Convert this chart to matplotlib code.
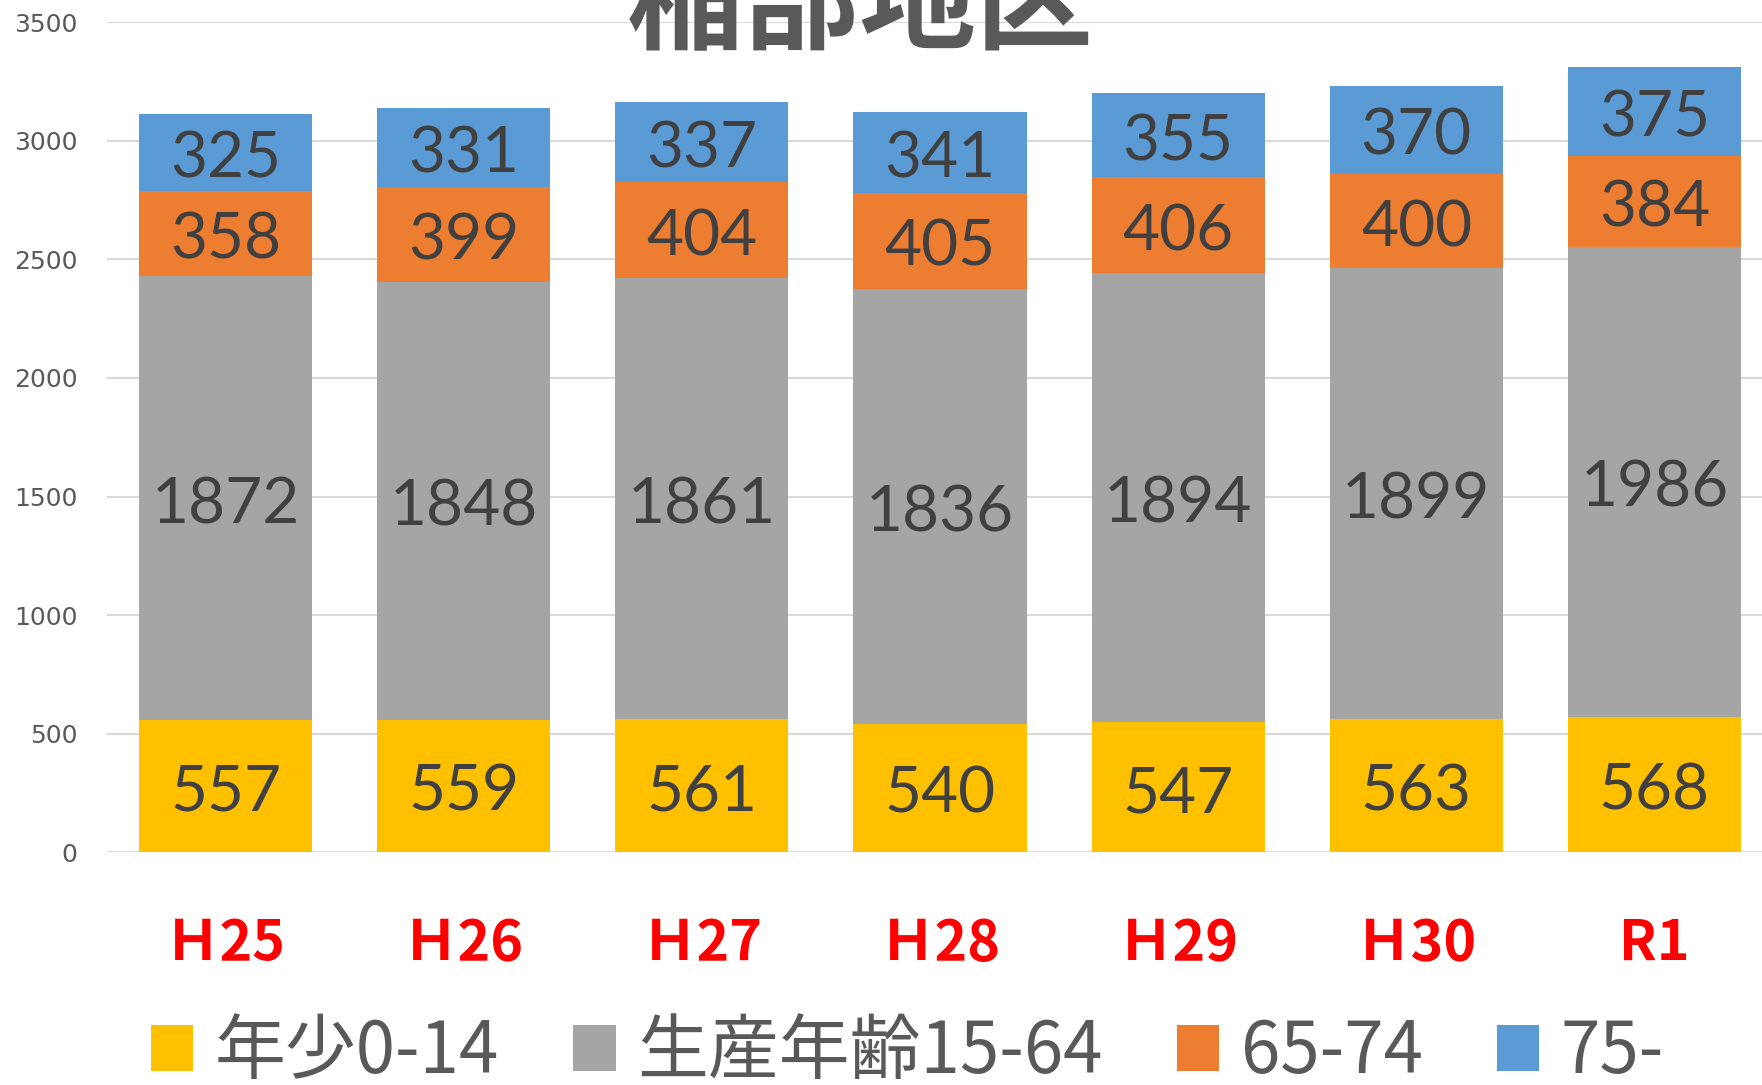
import matplotlib.pyplot as plt
import matplotlib.transforms as mtransforms
import numpy as np

plt.rcParams['font.family'] = ['Noto Sans CJK JP', 'DejaVu Sans']

# Data
years = ['Ｈ25', 'Ｈ26', 'Ｈ27', 'Ｈ28', 'Ｈ29', 'Ｈ30', 'R1']
young = [557, 559, 561, 540, 547, 563, 568]        # 年少0-14
working = [1872, 1848, 1861, 1836, 1894, 1899, 1986]  # 生産年齢15-64
old_65 = [358, 399, 404, 405, 406, 400, 384]       # 65-74
old_75 = [325, 331, 337, 341, 355, 370, 375]       # 75-

series = [young, working, old_65, old_75]
names = ['年少0-14', '生産年齢15-64', '65-74', '75-']
colors = ['#FFC000', '#A5A5A5', '#ED7D31', '#5B9BD5']

fig = plt.figure(figsize=(17.62, 10.85), dpi=100)
ax = fig.add_axes([0.0605, 0.2147, 0.9460, 0.7646])

# shift value labels down a little so digits sit in the middle of each block
lab_tr = mtransforms.offset_copy(ax.transData, fig=fig, x=0, y=-5, units='points')

x = np.arange(len(years))
bottom = np.zeros(len(years))
handles = []
for vals, name, c in zip(series, names, colors):
    vals = np.array(vals)
    bars = ax.bar(x, vals, width=0.727, bottom=bottom, color=c, label=name, zorder=2)
    handles.append(bars)
    for xi, b, v in zip(x, bottom, vals):
        ax.text(xi, b + v / 2, str(v), ha='center', va='center', transform=lab_tr,
                fontsize=46, color='#404040', family='Lato', zorder=3)
    bottom += vals

ax.set_xlim(-0.5, len(years) - 0.5)
ax.set_ylim(0, 3500)
ax.set_yticks(np.arange(0, 3501, 500))
ax.yaxis.grid(True, color='#D9D9D9', linewidth=1.5, zorder=0)
ax.set_axisbelow(True)
for s in ax.spines.values():
    s.set_visible(False)
ax.tick_params(axis='y', length=0, labelsize=18, labelcolor='#595959', pad=21)
for lab in ax.get_yticklabels():
    lab.set_family('DejaVu Sans')

ax.set_xticks(x)
ax.set_xticklabels(years, fontsize=40, color='#FF0000', fontweight='bold')
ax.tick_params(axis='x', length=0, pad=46)

fig.text(0.488, 0.995, '稲部地区', ha='center', va='center', fontsize=84,
         color='#595959', fontweight='bold')

fig.legend(handles, names, loc='center', bbox_to_anchor=(0.515, 0.03), ncol=4,
           frameon=False, fontsize=51, labelcolor='#595959', handlelength=0.6,
           handleheight=0.62, handletextpad=0.3, columnspacing=1.05)

fig.savefig('out.png', dpi=100)
